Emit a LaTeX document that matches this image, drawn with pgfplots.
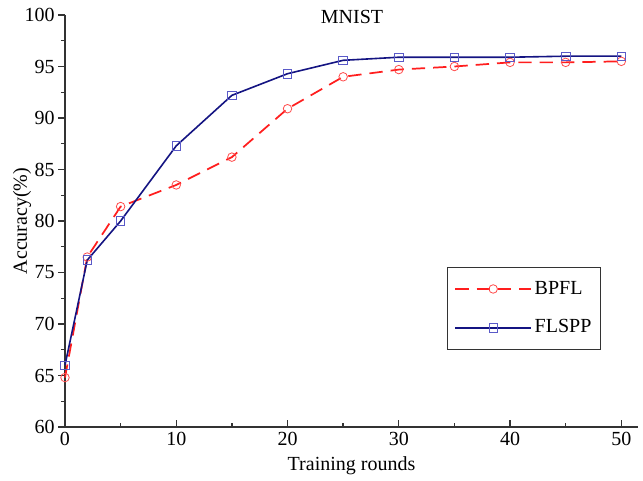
\documentclass[border=0pt]{standalone}
\usepackage{fontspec}
\setmainfont{Liberation Serif}
\usepackage{pgfplots}
\pgfplotsset{compat=1.18}
\definecolor{bred}{RGB}{255,30,30}
\definecolor{fnavy}{RGB}{20,20,130}
\definecolor{fmark}{RGB}{90,90,200}
\begin{document}
\fontsize{15}{18}\selectfont
\begin{tikzpicture}
\begin{axis}[
  width=429.75pt,height=309pt,scale only axis,clip=false,
  xmin=0,xmax=51.5,ymin=60,ymax=100,
  axis x line=bottom,axis y line=left,
  axis line style={-,line width=1.1pt,black!80},
  xtick={0,10,...,50},ytick={60,65,...,100},
  minor xtick={5,15,...,45},minor ytick={62.5,67.5,...,97.5},
  x tick style={black!80,line width=1pt},y tick style={black!80,line width=1pt},
  xtick align=inside,ytick align=outside,
  major tick length=5pt,minor tick length=3pt,
  yticklabel style={xshift=2.5pt},xticklabel style={yshift=1.5pt},
  xlabel={Training rounds},ylabel={Accuracy(\%)},
  xlabel style={at={(axis description cs:0.5,0)},anchor=center,yshift=-29.25pt},
  ylabel style={at={(axis description cs:-0.075,0.5)},anchor=center},
  /pgf/number format/assume math mode=true,
  legend style={at={(286.5pt,57.75pt)},anchor=south west,draw=black!80,line width=1.1pt,
    row sep=13pt,inner xsep=5pt,inner ysep=8pt},
  legend cell align=left,
  legend image code/.code={
    \draw[mark=none] (-1cm,0cm) -- (1cm,0cm);
    \draw plot coordinates {(0cm,0cm)};},
]
\addplot[bred,line width=1.3pt,dash pattern=on 10pt off 6pt,mark=o,mark size=3.2pt,
  mark options={solid,line width=0.6pt,draw=bred!80,fill=white}] coordinates {
(0,64.8) (2,76.5) (5,81.4) (10,83.5) (15,86.2) (20,90.9) (25,94.0)
(30,94.7) (35,95.0) (40,95.4) (45,95.4) (50,95.5)
};
\addlegendentry{BPFL}
\addplot[fnavy,line width=1.2pt,mark=square,mark size=3.2pt,
  mark options={solid,line width=0.6pt,draw=fmark,fill=white}] coordinates {
(0,66.0) (2,76.2) (5,80.0) (10,87.3) (15,92.2) (20,94.3) (25,95.6)
(30,95.9) (35,95.9) (40,95.9) (45,96.0) (50,96.0)
};
\addlegendentry{FLSPP}
\node[anchor=center] at (axis cs:25.8,99.8) {MNIST};
\end{axis}
\pgfresetboundingbox
\path ([xshift=-48.75pt,yshift=-40.5pt]current axis.south west)
  rectangle ([xshift=3.75pt,yshift=11.25pt]current axis.north east);
\end{tikzpicture}
\end{document}
